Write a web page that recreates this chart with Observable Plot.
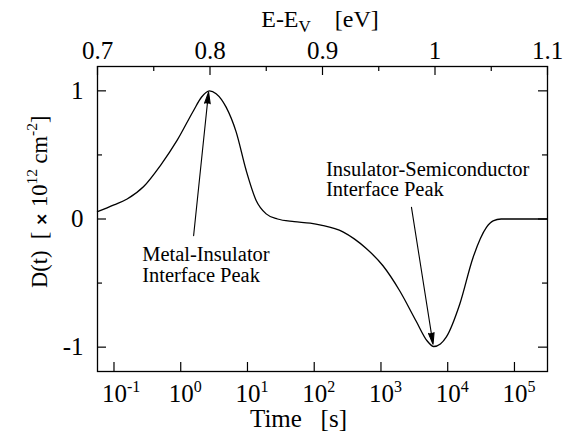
<!DOCTYPE html>
<html><head><meta charset="utf-8">
<script src="https://cdn.jsdelivr.net/npm/d3@7"></script>
<script src="https://cdn.jsdelivr.net/npm/@observablehq/plot@0.6"></script>
<style>
html,body{margin:0;padding:0;background:#fff;}
#chart{width:571px;height:434px;}
svg text{font-family:"Liberation Serif","Times New Roman",serif;}
</style></head>
<body><div id="chart"></div>
<script>
// curve samples: log10(time [s]) and D(t) [x10^12 cm^-2]
const logTime = [-1.247,-1.0,-0.803,-0.555,-0.305,-0.055,0.193,0.31,0.43,0.53,0.68,0.83,0.98,1.13,1.28,1.45,1.7,1.94,2.1,2.43,2.6,2.78,3.03,3.28,3.53,3.69,3.79,3.89,3.98,4.18,4.38,4.58,4.68,4.8,5.0,5.495];
const density = [0.057,0.11,0.156,0.253,0.417,0.613,0.847,0.95,1.0,0.978,0.873,0.68,0.38,0.145,0.04,0.0,-0.02,-0.033,-0.048,-0.10,-0.155,-0.23,-0.365,-0.56,-0.80,-0.95,-0.995,-0.975,-0.92,-0.665,-0.30,-0.066,-0.015,0,0,0];

const logTimeDomain = [-1.247, 5.495];
const timeTickExponents = [-1,0,1,2,3,4,5];
const energyDomain = [0.7, 1.1];
const energyTicks = [0.7,0.8,0.9,1,1.1];
const energyMinorTicks = [0.75,0.85,0.95,1.05];
const yDomain = [-1.19, 1.19];
const yMajorTicks = [-1,0,1];
const yMinorTicks = [-0.5,0.5];

const noteLabels = ["Metal-Insulator\nInterface Peak","Insulator-Semiconductor\nInterface Peak"];
const noteLogTime = [-0.578, 2.176];
const noteD = [-0.215, 0.45];
const arrowStartLogTime = [0.193, 3.457];
const arrowStartD = [-0.13, 0.091];
const arrowEndLogTime = [0.417, 3.78];
const arrowEndD = [0.99, -0.977];

const W = 571, H = 434, mL = 97, mR = 24, mT = 66, mB = 63;
const fw = W - mL - mR, fh = H - mT - mB;
const majorLen = 9, minorLen = 5;

const L0 = logTimeDomain[0], L1 = logTimeDomain[1];
const eSpan = energyDomain[1] - energyDomain[0];
const eToT = e => 10 ** (L0 + (e - energyDomain[0]) / eSpan * (L1 - L0));
const curveData = logTime.map((lt, i) => ({t: 10 ** lt, D: density[i]}));
const timeTicks = timeTickExponents.map(k => 10 ** k);
const notes = noteLabels.map((s, i) => ({label: s, t: 10 ** noteLogTime[i], D: noteD[i]}));
const arrows = arrowStartLogTime.map((v, i) => ({x1: 10 ** v, y1: arrowStartD[i], x2: 10 ** arrowEndLogTime[i], y2: arrowEndD[i]}));
const serif = "Liberation Serif";
const tickStyle = {stroke: "black", strokeWidth: 1.2};

const svg = Plot.plot({
  width: W, height: H,
  marginLeft: mL, marginRight: mR, marginTop: mT, marginBottom: mB,
  x: {type: "log", domain: [10 ** L0, 10 ** L1]},
  y: {domain: yDomain},
  style: {fontFamily: serif, fontSize: "25px", color: "black", background: "white"},
  marks: [
    // inward tick marks
    Plot.ruleX(timeTicks, {x: d => d, insetTop: fh - majorLen, ...tickStyle}),
    Plot.ruleX(energyTicks, {x: eToT, insetBottom: fh - majorLen, ...tickStyle}),
    Plot.ruleX(energyMinorTicks, {x: eToT, insetBottom: fh - minorLen, ...tickStyle}),
    Plot.ruleY(yMajorTicks, {y: d => d, insetRight: fw - majorLen, ...tickStyle}),
    Plot.ruleY(yMinorTicks, {y: d => d, insetRight: fw - minorLen, ...tickStyle}),
    Plot.ruleY(yMajorTicks, {y: d => d, insetLeft: fw - majorLen, ...tickStyle}),
    Plot.ruleY(yMinorTicks, {y: d => d, insetLeft: fw - minorLen, ...tickStyle}),
    Plot.frame({stroke: "black", strokeWidth: 1.3}),
    // tick labels
    Plot.axisX(timeTicks, {anchor: "bottom", tickSize: 0, tickPadding: 13, textAnchor: "start", dx: -12,
      tickFormat: d => "10^" + Math.round(Math.log10(d)), label: null, fontFamily: serif}),
    Plot.text(energyTicks, {x: eToT, frameAnchor: "top", dy: -8, lineAnchor: "bottom",
      text: d => String(d), fontSize: 25, fontFamily: serif, fill: "black"}),
    Plot.axisY(yMajorTicks, {anchor: "left", tickSize: 0, tickPadding: 14, tickFormat: d => String(d), label: null, fontFamily: serif}),
    // data
    Plot.line(curveData, {x: "t", y: "D", curve: "monotone-x", stroke: "black", strokeWidth: 1.3}),
    Plot.arrow(arrows, {x1: "x1", y1: "y1", x2: "x2", y2: "y2", stroke: "black", fill: "black",
      strokeWidth: 1.1, headLength: 16, headAngle: 28}),
    Plot.text(notes, {x: "t", y: "D", text: "label", textAnchor: "start", lineAnchor: "top",
      fontSize: 20.5, lineHeight: 1, fill: "black", fontFamily: serif})
  ]
});

// superscript exponents on log tick labels
d3.select(svg).selectAll("text").each(function () {
  const m = /^10\^(-?\d+)$/.exec(this.textContent);
  if (m) {
    this.textContent = "10";
    d3.select(this).append("tspan").attr("dy", "-10").attr("font-size", "16px").text(m[1]);
  }
});

const s = d3.select(svg);
// top title
const tt = s.append("text").attr("x", 320).attr("y", 27).attr("text-anchor", "middle").attr("font-family", serif)
  .attr("font-size", "24px").attr("fill", "black").attr("xml:space", "preserve").style("white-space", "pre");
tt.append("tspan").text("E-E");
tt.append("tspan").attr("font-size", "17px").attr("dy", "5").text("V");
tt.append("tspan").attr("dy", "-5").text("    [eV]");
// bottom title
s.append("text").attr("x", 298.5).attr("y", 427).attr("text-anchor", "middle").attr("font-family", serif)
  .attr("font-size", "25px").attr("fill", "black").attr("xml:space", "preserve").style("white-space", "pre")
  .text("Time   [s]");
// y title
const yt = s.append("text").attr("transform", "translate(47,201.7) rotate(-90)").attr("text-anchor", "middle")
  .attr("font-family", serif).attr("font-size", "22.5px").attr("fill", "black").attr("xml:space", "preserve").style("white-space", "pre");
yt.append("tspan").text("D(t)  [ ");
yt.append("tspan").attr("font-family", "DejaVu Sans").attr("font-weight", "bold").attr("font-size", "16px").text("×");
yt.append("tspan").text(" 10");
yt.append("tspan").attr("font-size", "15.5px").attr("dy", "-10").text("12");
yt.append("tspan").attr("dy", "10").text(" cm");
yt.append("tspan").attr("font-size", "15.5px").attr("dy", "-10").text("-2");
yt.append("tspan").attr("dy", "10").text("]");

document.getElementById("chart").appendChild(svg);
</script>
</body></html>
